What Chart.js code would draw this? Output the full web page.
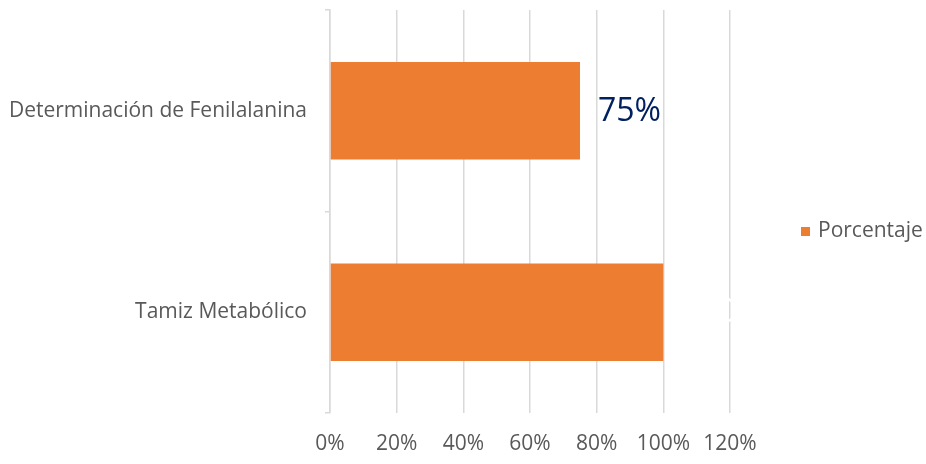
<!DOCTYPE html>
<html>
<head>
<meta charset="utf-8">
<script src="https://cdn.jsdelivr.net/npm/chart.js@4.4.0/dist/chart.umd.min.js"></script>
<style>
  html, body { margin: 0; padding: 0; background: #fff; }
  #wrap { width: 926px; height: 464px; position: relative; }
</style>
</head>
<body>
<div id="wrap"><canvas id="chart"></canvas></div>
<script>
// datos del grafico
const categories = ['Determinación de Fenilalanina', 'Tamiz Metabólico'];
const porcentaje = [75, 100];
const seriesName = 'Porcentaje';
const xTicks = [0, 20, 40, 60, 80, 100, 120];

const FONT = "'Open Sans', 'Noto Sans', sans-serif";
const ORANGE = '#ED7D31';
const GRID = '#D9D9D9';
const TXT = '#595959';

// etiquetas de datos (la segunda sale blanca como en el original)
const labelPlugin = {
  id: 'valueLabels',
  afterDatasetsDraw(chart) {
    const ctx = chart.ctx;
    const meta = chart.getDatasetMeta(0);
    ctx.save();
    ctx.font = '32px ' + FONT;
    ctx.textBaseline = 'middle';
    ctx.textAlign = 'left';
    meta.data.forEach((bar, i) => {
      ctx.fillStyle = i === 0 ? '#002060' : '#FFFFFF';
      ctx.fillText(porcentaje[i] + '%', bar.x + 18, bar.y + 1);
    });
    ctx.restore();
  }
};

// leyenda a la derecha
const legendPlugin = {
  id: 'sideLegend',
  afterDraw(chart) {
    const ctx = chart.ctx;
    const midY = 231;
    ctx.save();
    ctx.fillStyle = ORANGE;
    ctx.fillRect(801, midY - 4, 9, 9);
    ctx.fillStyle = TXT;
    ctx.font = '21px ' + FONT;
    ctx.textBaseline = 'middle';
    ctx.fillText(seriesName, 818, midY);
    ctx.restore();
  }
};

new Chart(document.getElementById('chart'), {
  type: 'bar',
  data: {
    labels: categories,
    datasets: [{
      label: seriesName,
      data: porcentaje,
      backgroundColor: ORANGE,
      categoryPercentage: 0.5,
      barPercentage: 0.97
    }]
  },
  options: {
    indexAxis: 'y',
    responsive: true,
    maintainAspectRatio: false,
    animation: false,
    layout: { padding: { top: 10, right: 196, left: 0, bottom: 0 } },
    plugins: { legend: { display: false }, tooltip: { enabled: false } },
    scales: {
      x: {
        min: 0, max: 120,
        afterBuildTicks(axis) { axis.ticks = xTicks.map(v => ({ value: v })); },
        afterFit(axis) { axis.height = 51; },
        border: { display: false },
        grid: { color: GRID, lineWidth: 1.5, drawTicks: false },
        ticks: {
          color: TXT,
          font: { family: FONT, size: 21 },
          padding: 18,
          callback: v => v + '%'
        }
      },
      y: {
        afterFit(axis) {
          axis.width = 330;
          axis.paddingTop = 0;
          axis.paddingBottom = 0;
        },
        border: { display: true, color: GRID, width: 1.5 },
        grid: { drawOnChartArea: false, drawTicks: true, tickLength: 5, color: GRID, lineWidth: 1.5 },
        ticks: {
          color: TXT,
          font: { family: FONT, size: 21 },
          padding: 18
        }
      }
    }
  },
  plugins: [labelPlugin, legendPlugin]
});
</script>
</body>
</html>
